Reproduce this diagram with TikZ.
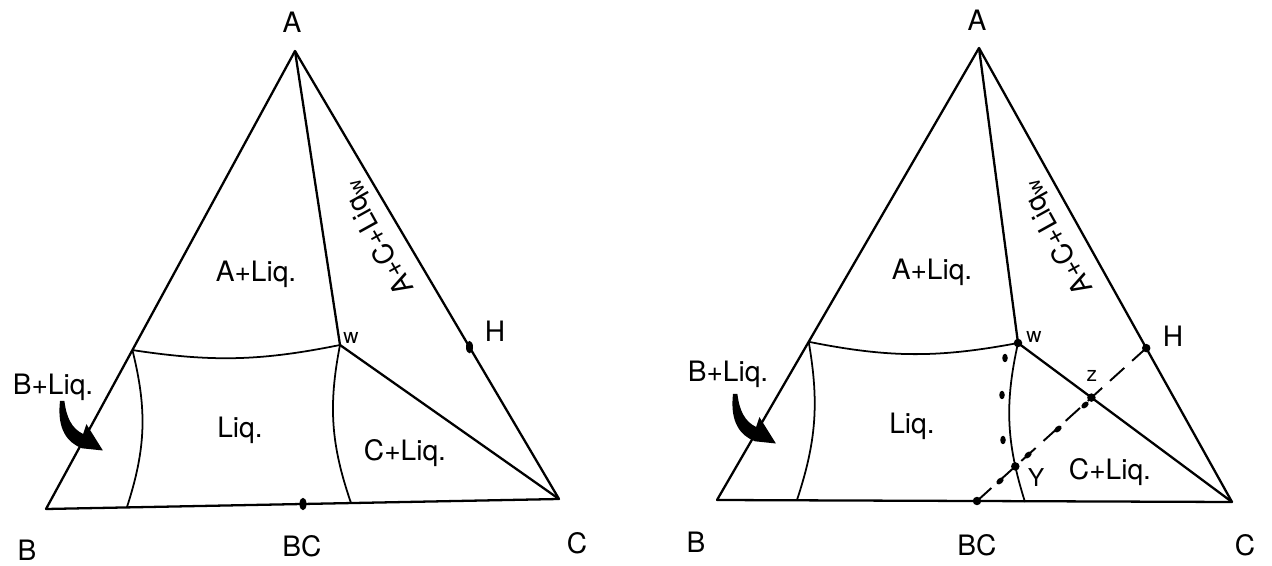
\documentclass[tikz,border=0pt]{standalone}
\usepackage{fontspec}
\setmainfont{TeX Gyre Heros}
\usetikzlibrary{calc,intersections,shapes.geometric}

\begin{document}
\begin{tikzpicture}[x=0.02cm,y=0.02cm,
 edge/.style={line width=1.3pt,line join=round},
 bound/.style={line width=1pt},
 lbl/.style={font=\fontsize{16}{19}\selectfont,inner sep=1pt},
 small/.style={font=\fontsize{12}{14}\selectfont,inner sep=1pt},
 mid/.style={font=\fontsize{14}{16}\selectfont,inner sep=1pt},
 dot/.style={circle,fill,inner sep=0pt,minimum size=0.17cm},
 tdot/.style={ellipse,fill,inner sep=0pt,minimum width=0.14cm,minimum height=0.25cm},
 drop/.style={ellipse,fill,inner sep=0pt,minimum width=0.11cm,minimum height=0.17cm},
 hook/.pic={\fill[scale=1.1] (0,0) .. controls (-3,-26) and (7,-38) .. (20,-43)
   -- (39,-45) -- (24,-21) -- (21,-30)
   .. controls (11,-25) and (6,-16) .. (4,0) -- cycle;}]
\useasboundingbox (0,0) rectangle (1272,565);

% left diagram
\coordinate (A1) at (295,514);
\coordinate (B1) at (46,56);
\coordinate (C1) at (559,66);
\coordinate (w1) at (340,220);
\coordinate (P1) at ($(B1)!0.347!(A1)$);
\coordinate (Q1) at (127,58);
\coordinate (R1) at (351,62);
\coordinate (H1) at ($(A1)!0.661!(C1)$);
\coordinate (BC1) at (303,61);
\draw[edge] (A1) -- (B1) -- (C1) -- cycle;
\draw[edge] (A1) -- (w1) -- (C1);
\draw[bound] (P1) to[bend right=10] (w1);
\draw[bound] (P1) to[bend left=16] (Q1);
\draw[bound] (w1) to[bend right=15] (R1);
\node[tdot] (dH1) at (H1) {};
\node[tdot] (dBC1) at (BC1) {};
\node[lbl] (nA1) at (292,543) {A};
\node[lbl] (nB1) at (27,15) {B};
\node[lbl] (nBC1) at (302,19) {BC};
\node[lbl] (nC1) at (577,22) {C};
\node[lbl] (nH1) at (495,234) {H};
\node[small] (nw1) at (351,227) {w};
\node[lbl] (al1) at (256,291) {A+Liq.};
\node[lbl] (lq1) at (240,135) {Liq.};
\node[lbl] (cl1) at (405,112) {C+Liq.};
\node[lbl] (bl1) at (53,178) {B+Liq.};
\node[lbl,rotate=119] (acl1) at (378,327) {A+C+Liq\textsubscript{w}};
\coordinate (t1) at (60,164);
\pic at (t1) {hook};

% right diagram
\coordinate (A2) at (979,517);
\coordinate (B2) at (717,65);
\coordinate (C2) at (1232,63);
\coordinate (w2) at (1018,222);
\coordinate (P2) at ($(B2)!0.35!(A2)$);
\coordinate (Q2) at (797,65);
\coordinate (R2) at (1025,63);
\coordinate (H2) at ($(A2)!0.661!(C2)$);
\coordinate (BC2) at (977,64);
\coordinate (Z2) at (intersection of BC2--H2 and w2--C2);
\draw[edge] (A2) -- (B2) -- (C2) -- cycle;
\draw[edge] (A2) -- (w2) -- (C2);
\draw[bound] (P2) to[bend right=11] (w2);
\draw[bound] (P2) to[bend left=14] (Q2);
\draw[bound,name path=wr] (w2) to[bend right=15] (R2);
\draw[edge,line width=1.1pt,dash pattern=on 11pt off 6pt,name path=dl] (BC2) -- (H2);
\path[name intersections={of=wr and dl,by=Y2}];
\node[dot] (dw2) at (w2) {};
\node[dot] (dZ2) at (Z2) {};
\node[dot] (dY2) at (Y2) {};
\node[dot] (dBC2) at (BC2) {};
\node[dot] (dH2) at (H2) {};
\node[drop] (d1) at (1005,207) {};
\node[drop] (d2) at (1002,170) {};
\node[drop] (d3) at (1003,125) {};
\node[drop,rotate=-48] (d4) at (1000,84) {};
\node[drop,rotate=-48] (d5) at (1028,110) {};
\node[drop,rotate=-48] (d6) at (1058,136) {};
\node[drop,rotate=-48] (d7) at (1085,160) {};
\node[lbl] (nA2) at (977,545) {A};
\node[lbl] (nB2) at (696,23) {B};
\node[lbl] (nBC2) at (977,20) {BC};
\node[lbl] (nC2) at (1245,20) {C};
\node[lbl] (nH2) at (1173,229) {H};
\node[small] (nw2) at (1034,228) {w};
\node[small] (nz2) at (1092,189) {z};
\node[mid] (nY2) at (1036,87) {Y};
\node[lbl] (al2) at (932,293) {A+Liq.};
\node[lbl] (lq2) at (912,139) {Liq.};
\node[lbl] (cl2) at (1110,93) {C+Liq.};
\node[lbl] (bl2) at (728,191) {B+Liq.};
\node[lbl,rotate=119] (acl2) at (1057,327) {A+C+Liq\textsubscript{w}};
\coordinate (t2) at (733,171);
\pic at (t2) {hook};
\end{tikzpicture}
\end{document}
